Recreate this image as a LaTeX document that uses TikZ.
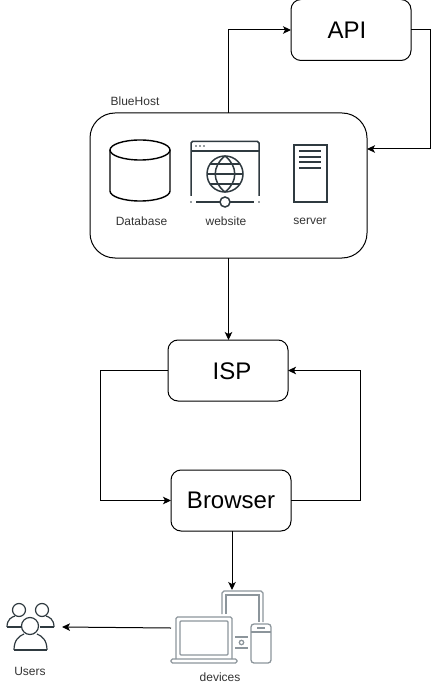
\documentclass[tikz,border=0pt]{standalone}
\usepackage{fontspec}
\setmainfont{Liberation Sans}
\usetikzlibrary{arrows.meta}

\definecolor{icondark}{HTML}{2F3A40}
\definecolor{devicegray}{HTML}{8C959B}

\begin{document}
\begin{tikzpicture}[x=1pt,y=-1pt,->,>={Stealth[length=8pt,width=7.5pt,inset=2pt]},line width=1pt,
  main node/.style={rectangle,rounded corners=10pt,draw,minimum width=120pt,minimum height=61pt,
    inner sep=0pt,outer sep=0pt,font=\fontsize{24}{28}\selectfont},
  small label/.style={inner sep=0pt,text=black!80,font=\fontsize{12}{14}\selectfont},
  icon node/.style={inner sep=0pt,outer sep=0pt}]

    \useasboundingbox (0,0) rectangle (440,684);

    % boxes
    \node[main node] (api) at (351,30) {};
    \node at (347,30) [inner sep=0pt,font=\fontsize{24}{28}\selectfont] (apitext) {API};
    \node[main node,minimum width=277pt,minimum height=145pt,rounded corners=25pt] (bluehost) at (228.5,185.5) {};
    \node[main node] (isp) at (228,370.5) {};
    \node at (232,371) [inner sep=0pt,font=\fontsize{24}{28}\selectfont] (isptext) {ISP};
    \node[main node] (browser) at (231,500.5) {Browser};

    % labels
    \node[small label] (bluehostlabel) at (135,101) {BlueHost};
    \node[small label] (dblabel) at (141.5,221) {Database};
    \node[small label] (weblabel) at (226,221) {website};
    \node[small label] (serverlabel) at (310,221) {server};
    \node[small label] (userslabel) at (30,671) {Users};
    \node[small label] (deviceslabel) at (220,677) {devices};

    % icon frames, only to give the arrows something to hit
    \node[icon node,minimum width=100pt,minimum height=75pt] (devices) at (221,628) {};
    \node[icon node,minimum width=64pt,minimum height=50pt] (users) at (30,627) {};

    % database
    \begin{scope}[-,line width=1.4pt]
    \draw (110,150) arc[start angle=180,end angle=-180,x radius=30,y radius=10];
    \draw (110,150) -- (110,191) arc[start angle=180,end angle=0,x radius=30,y radius=10] -- (170,150);
    \end{scope}

    % website
    \begin{scope}[-,line width=1.5pt,icondark]
    \draw (191,196) -- (191,143) -- ++(1.5,-1.5) -- (257.5,141.5) -- ++(1.5,1.5) -- (259,196);
    \draw (191,151) -- (259,151);
    \foreach \i in {196,200,204} \fill (\i,146) circle (0.9);
    \draw (225,174) circle (18);
    \draw (225,156) .. controls (212,166) and (212,182) .. (225,192);
    \draw (225,156) .. controls (238,166) and (238,182) .. (225,192);
    \draw (210,164) -- (240,164);
    \draw (207,174) -- (243,174);
    \draw (210,184) -- (240,184);
    \draw (196,202) -- (220,202);
    \draw (230,202) -- (254,202);
    \draw (225,202) circle (5);
    \fill (191,202) circle (0.9);
    \fill (259,202) circle (0.9);
    \end{scope}

    % server
    \begin{scope}[-,line width=1.5pt,icondark]
    \draw (294,145) rectangle (327,202);
    \foreach \i in {151,157,162,168} \draw (299,\i) -- (321,\i);
    \end{scope}

    % devices
    \begin{scope}[-,line width=1.3pt,devicegray]
    \draw (222,614) -- (222,593) -- ++(2,-2) -- (261,591) -- ++(2,2) -- (263,622);
    \draw (226,614) -- (226,595) -- (259,595) -- (259,622);
    \draw[rounded corners=1.5pt] (176,659) -- (176,617) -- (232,617) -- (232,659);
    \draw[rounded corners=1pt] (180,655) rectangle (228,621);
    \draw[rounded corners=1.5pt] (171,659) rectangle (237,663);
    \draw[rounded corners=3pt] (251,624) rectangle (271,663);
    \draw (251,632) -- (271,632);
    \draw (257,628) -- (265,628);
    \draw (235,637) -- (248,637);
    \draw (235,648) -- (248,648);
    \draw (241.5,642.5) circle (2.2);
    \end{scope}

    % users
    \begin{scope}[-,line width=1.2pt,icondark]
    \draw (19,610) circle (6.5);
    \draw (42,610) circle (6.5);
    \draw (7,627) .. controls (7,619) and (12,617) .. (15,616);
    \draw (7,627) -- (21,627);
    \draw (54,627) .. controls (54,619) and (49,617) .. (46,616);
    \draw (54,627) -- (40,627);
    \draw (30,626) circle (8.5);
    \draw (14,650) .. controls (14,640) and (19,636) .. (24,634);
    \draw (47,650) .. controls (47,640) and (42,636) .. (37,634);
    \draw (14,650) -- (47,650);
    \end{scope}

    % connectors
    \draw (bluehost.north) -- (bluehost.north |- api.west) -- (api.west);
    \draw (api.east) -- ++(19,0) -- ++(0,119) -- (bluehost.east |- 0,149);
    \draw (bluehost.south) -- (bluehost.south |- isp.north);
    \draw (isp.west) -- ++(-68,0) -- ++(0,130) -- (browser.west);
    \draw (browser.east) -- ++(69,0) -- ++(0,-130) -- (isp.east);
    \draw (browser.south -| 232,0) -- (232,590);
    \draw (devices.west) -- (users.east);

\end{tikzpicture}
\end{document}
